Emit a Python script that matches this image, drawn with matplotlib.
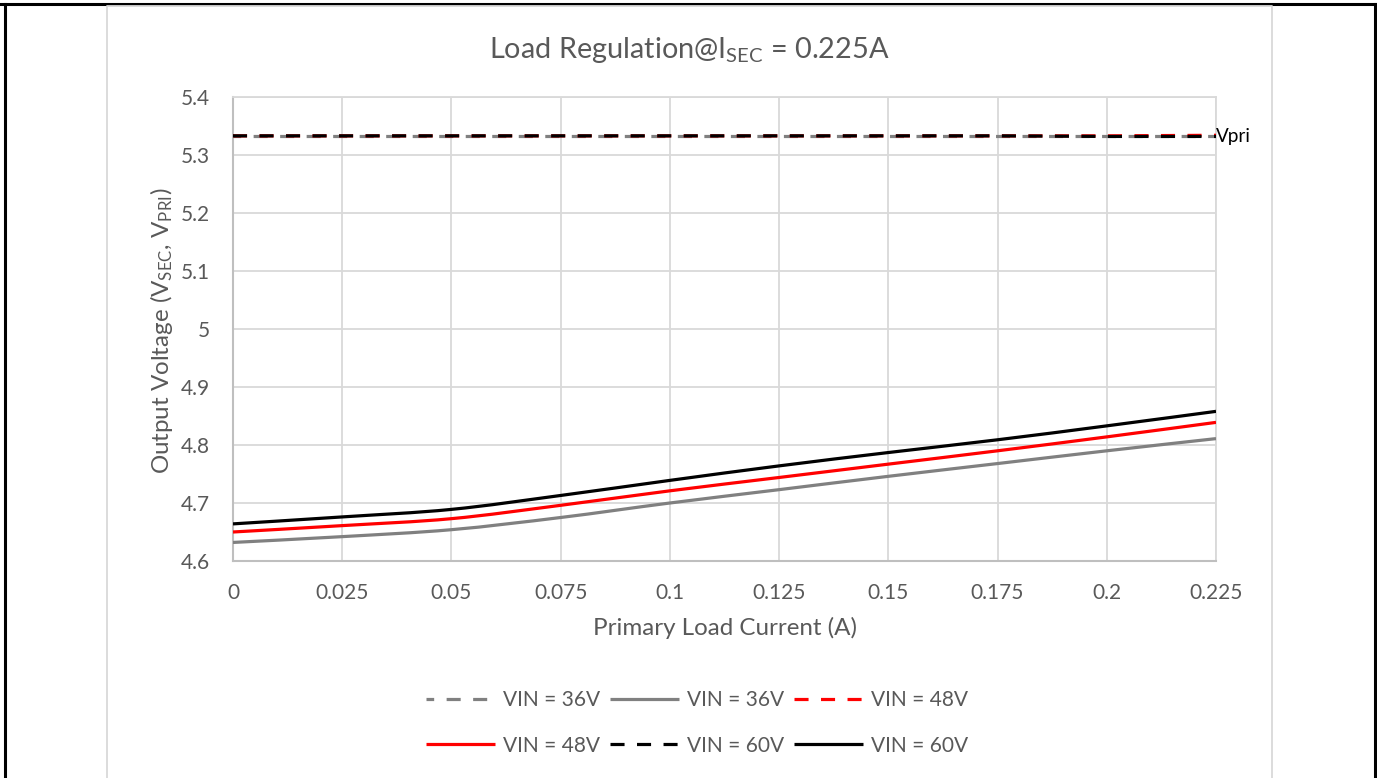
import matplotlib
matplotlib.use("Agg")
import matplotlib.pyplot as plt
from matplotlib.lines import Line2D
from matplotlib.path import Path
from matplotlib.patches import PathPatch

plt.rcParams['font.family'] = ['Lato', 'DejaVu Sans']
plt.rcParams['mathtext.fontset'] = 'custom'
plt.rcParams['mathtext.rm'] = 'Lato'
plt.rcParams['mathtext.it'] = 'Lato:italic'
plt.rcParams['mathtext.bf'] = 'Lato:bold'

# ---- data ----
current = [0, 0.025, 0.05, 0.075, 0.1, 0.125, 0.15, 0.175, 0.2, 0.225]
vpri_36 = [5.333] * 10
vpri_48 = [5.333, 5.333, 5.333, 5.333, 5.333, 5.333, 5.333, 5.333, 5.333, 5.334]
vpri_60 = [5.333, 5.333, 5.333, 5.333, 5.333, 5.333, 5.333, 5.333, 5.332, 5.332]
vsec_36 = [4.632, 4.642, 4.654, 4.675, 4.700, 4.723, 4.746, 4.768, 4.790, 4.811]
vsec_48 = [4.650, 4.661, 4.673, 4.696, 4.721, 4.744, 4.767, 4.790, 4.814, 4.839]
vsec_60 = [4.664, 4.676, 4.689, 4.713, 4.739, 4.764, 4.787, 4.809, 4.833, 4.858]
xtick_labels = ["0", "0.025", "0.05", "0.075", "0.1", "0.125", "0.15", "0.175", "0.2", "0.225"]
yticks = [4.6, 4.7, 4.8, 4.9, 5.0, 5.1, 5.2, 5.3, 5.4]
ytick_labels = ["4.6", "4.7", "4.8", "4.9", "5", "5.1", "5.2", "5.3", "5.4"]
legend_labels = ["VIN = 36V", "VIN = 36V", "VIN = 48V", "VIN = 48V", "VIN = 60V", "VIN = 60V"]

W, H = 1377, 778
fig = plt.figure(figsize=(W / 100, H / 100), dpi=100)
fig.patch.set_facecolor('white')

GRID = '#d9d9d9'
TXT = '#595959'
GREY = '#808080'

# outer page border (black) and chart-area border (light grey)
fig.add_artist(Line2D([0, 1375 / W], [1 - 3.5 / H, 1 - 3.5 / H], color='black', lw=2.2, transform=fig.transFigure))
fig.add_artist(Line2D([5 / W, 5 / W], [0, 1 - 3.5 / H], color='black', lw=2.2, transform=fig.transFigure))
fig.add_artist(Line2D([1374.5 / W, 1374.5 / W], [0, 1 - 3.5 / H], color='black', lw=2.2, transform=fig.transFigure))
fig.add_artist(Line2D([106.5 / W, 106.5 / W, 1272 / W, 1272 / W], [0, 1 - 5.5 / H, 1 - 5.5 / H, 0],
                      color=GRID, lw=1.3, transform=fig.transFigure))

ax = fig.add_axes([233 / W, 1 - 561 / H, (1216 - 233) / W, (561 - 97) / H])

lw = 2.3
dash = (4.4, 3.9)


def smooth_line(ax, xs, ys, **kw):
    """Draw a smoothed (Catmull-Rom style Bezier) line through the data points, in data coords."""
    verts = [(xs[0], ys[0])]
    codes = [Path.MOVETO]
    n = len(xs)
    for i in range(n - 1):
        x0, y0 = (xs[i - 1], ys[i - 1]) if i > 0 else (xs[i], ys[i])
        x1, y1 = xs[i], ys[i]
        x2, y2 = xs[i + 1], ys[i + 1]
        x3, y3 = (xs[i + 2], ys[i + 2]) if i + 2 < n else (xs[i + 1], ys[i + 1])
        c1 = (x1 + (x2 - x0) / 6.0, y1 + (y2 - y0) / 6.0)
        c2 = (x2 - (x3 - x1) / 6.0, y2 - (y3 - y1) / 6.0)
        verts += [c1, c2, (x2, y2)]
        codes += [Path.CURVE4] * 3
    patch = PathPatch(Path(verts, codes), facecolor='none', transform=ax.transData,
                      capstyle='butt', joinstyle='round', **kw)
    ax.add_patch(patch)
    return patch


l1, = ax.plot(current, vpri_36, color=GREY, lw=lw, dash_capstyle='butt', zorder=3)
l1.set_linestyle((2.0, dash))
l3, = ax.plot(current, vpri_48, color='#ff0000', lw=lw, dash_capstyle='butt', zorder=4)
l3.set_linestyle((0, dash))
l5, = ax.plot(current, vpri_60, color='black', lw=lw, dash_capstyle='butt', zorder=5)
l5.set_linestyle((0, dash))

smooth_line(ax, current, vsec_36, edgecolor=GREY, lw=lw, zorder=3)
smooth_line(ax, current, vsec_48, edgecolor='#ff0000', lw=lw, zorder=4)
smooth_line(ax, current, vsec_60, edgecolor='black', lw=lw, zorder=5)
l2 = Line2D([], [], color=GREY, lw=lw, solid_capstyle='butt')
l4 = Line2D([], [], color='#ff0000', lw=lw, solid_capstyle='butt')
l6 = Line2D([], [], color='black', lw=lw, solid_capstyle='butt')

ax.text(current[-1], vpri_60[-1], "Vpri", ha='left', va='center', fontsize=13.6, color='black',
        clip_on=False, zorder=6)

ax.set_xlim(current[0], current[-1])
ax.set_ylim(yticks[0], yticks[-1])
ax.set_xticks(current)
ax.set_xticklabels(xtick_labels)
ax.set_yticks(yticks)
ax.set_yticklabels(ytick_labels)
ax.tick_params(axis='both', length=0, labelsize=15, labelcolor=TXT)
ax.tick_params(axis='x', pad=16)
ax.tick_params(axis='y', pad=16.5)
ax.grid(True, color=GRID, lw=1.3)
ax.set_axisbelow(True)
for s in ['top', 'right']:
    ax.spines[s].set_color(GRID)
    ax.spines[s].set_linewidth(1.3)
for s in ['left', 'bottom']:
    ax.spines[s].set_color('#bfbfbf')
    ax.spines[s].set_linewidth(1.5)

ax.set_xlabel("Primary Load Current (A)", fontsize=17.4, color=TXT, va='center')
ax.xaxis.set_label_coords(0.5, (561 - 628) / 464)
ax.set_ylabel(r"Output Voltage (V$_{\mathregular{SEC}}$, V$_{\mathregular{PRI}}$)", fontsize=17.4, color=TXT,
              va='center')
ax.yaxis.set_label_coords((162 - 233) / 983, (561 - 331) / 464)

fig.text(689 / W, 1 - 50 / H, r"Load Regulation@I$_{\mathregular{SEC}}$ = 0.225A", ha='center', va='center',
         fontsize=20.8, color=TXT)

handles = [l1, l4, l2, l5, l3, l6]
labels = [legend_labels[0], legend_labels[3], legend_labels[1], legend_labels[4], legend_labels[2], legend_labels[5]]
leg = fig.legend(handles, labels, loc='center', bbox_to_anchor=(697 / W, 1 - 723 / H), ncol=3,
                 frameon=False, fontsize=15, handlelength=3.3, handletextpad=0.38, columnspacing=0.48,
                 labelspacing=1.2, borderpad=0)
for t in leg.get_texts():
    t.set_color(TXT)

fig.savefig("out.png", dpi=100, facecolor='white')
